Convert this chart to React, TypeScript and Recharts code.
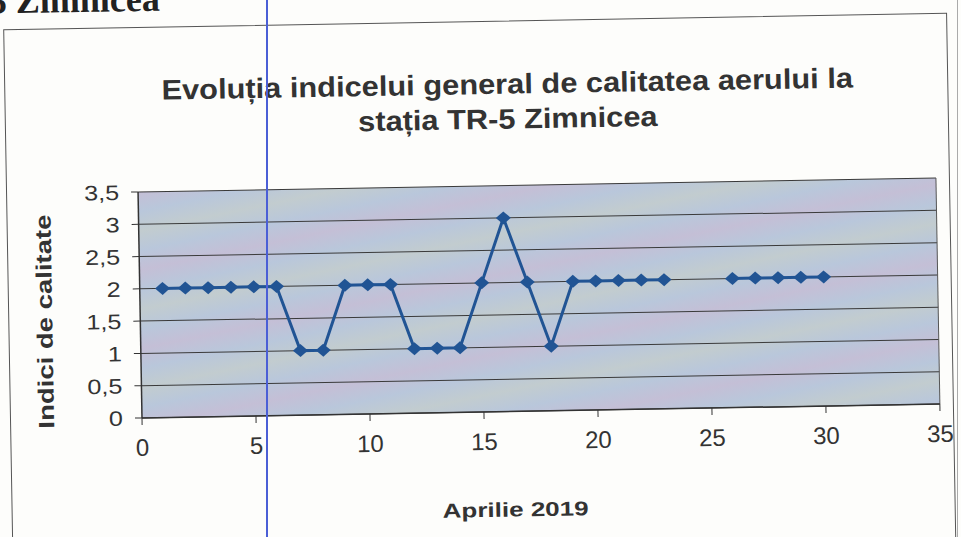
import { LineChart, Line, XAxis, YAxis, CartesianGrid, ReferenceLine } from "recharts";

// Indicele general de calitate, TR-5 Zimnicea, aprilie 2019 (zilele 24-25 lipsa)
const days = [1, 2, 3, 4, 5, 6, 7, 8, 9, 10, 11, 12, 13, 14, 15, 16, 17, 18, 19, 20, 21, 22, 23, 24, 25, 26, 27, 28, 29, 30];
const indici = [2, 2, 2, 2, 2, 2, 1, 1, 2, 2, 2, 1, 1, 1, 2, 3, 2, 1, 2, 2, 2, 2, 2, null, null, 2, 2, 2, 2, 2];
const xTicks = [0, 5, 10, 15, 20, 25, 30, 35];
const yTicks = [0, 0.5, 1, 1.5, 2, 2.5, 3, 3.5];

const data = days.map((d, i) => ({ zi: d, indice: indici[i] }));

const FONT = "'Liberation Sans', Arial, sans-serif";
const LINE_COLOR = "#215494";
const TEXT = "#333";

const Diamond = (props: any) => {
  const { cx, cy, value } = props;
  if (value == null || cx == null || cy == null) return null;
  return (
    <polygon
      points={`${cx},${cy - 6.5} ${cx + 7.5},${cy} ${cx},${cy + 6.5} ${cx - 7.5},${cy}`}
      fill={LINE_COLOR}
    />
  );
};

// scanarea e putin intinsa pe orizontala, asa ca textul e lățit
const YTick = (props: any) => {
  const { x, y, payload } = props;
  return (
    <text
      x={x}
      y={y}
      dy="0.36em"
      textAnchor="end"
      fontSize={21}
      fill={TEXT}
      fontFamily={FONT}
      transform={`translate(${x},0) scale(1.2,1) translate(${-x},0)`}
    >
      {String(payload.value).replace(".", ",")}
    </text>
  );
};

export default function App() {
  return (
    <div style={{ position: "absolute", top: 0, left: 0, width: 961, height: 537, background: "#fdfdfb", overflow: "hidden", fontFamily: FONT }}>
      <div style={{ position: "absolute", left: 0, top: 0, width: 961, height: 537, transform: "rotate(-1deg)", transformOrigin: "540px 300px" }}>
        {/* bucata din titlul paginii, taiata sus */}
        <div style={{ position: "absolute", left: -6, top: -29, fontFamily: "'Liberation Serif', serif", fontWeight: "bold", fontSize: 36, color: "#222", whiteSpace: "nowrap" }}>
          5 Zimnicea
        </div>
        {/* chenarul graficului */}
        <div style={{ position: "absolute", left: 8, top: 20, width: 942, height: 560, border: "1px solid #555" }} />

        <div style={{ position: "absolute", left: 0, top: 66, width: 1022, textAlign: "center", fontWeight: "bold", fontSize: 28, lineHeight: "35px", color: TEXT, transform: "scaleX(1.1)", transformOrigin: "511px 0" }}>
          Evoluția indicelui general de calitatea aerului la
          <br />
          stația TR-5 Zimnicea
        </div>

        <div style={{ position: "absolute", left: 0, top: 0 }}>
          <LineChart width={961} height={537} data={data} margin={{ top: 185, right: 23, bottom: 86, left: 80 }}>
            <defs>
              <linearGradient id="moire" x1="0" y1="0" x2="0.08" y2="0.12" spreadMethod="reflect">
                <stop offset="0%" stopColor="#c4bfd6" />
                <stop offset="50%" stopColor="#b9c7db" />
                <stop offset="100%" stopColor="#c2cccf" />
              </linearGradient>
            </defs>
            <CartesianGrid vertical={false} stroke="#3a3a3a" strokeWidth={1} fill="url(#moire)" fillOpacity={1} />
            <ReferenceLine x={35} stroke="#555" strokeWidth={1} />
            <XAxis
              dataKey="zi"
              type="number"
              domain={[0, 35]}
              ticks={xTicks}
              height={40}
              axisLine={{ stroke: "#333", strokeWidth: 1.5 }}
              tickLine={{ stroke: "#333" }}
              tickSize={7}
              tickMargin={14}
              tick={{ fontSize: 24, fill: TEXT, fontFamily: FONT }}
              interval={0}
            />
            <YAxis
              type="number"
              domain={[0, 3.5]}
              ticks={yTicks}
              width={60}
              axisLine={{ stroke: "#333", strokeWidth: 1.5 }}
              tickLine={{ stroke: "#333" }}
              tickSize={7}
              tickMargin={12}
              tick={<YTick />}
              interval={0}
            />
            <Line
              type="linear"
              dataKey="indice"
              stroke={LINE_COLOR}
              strokeWidth={3}
              dot={<Diamond />}
              activeDot={false}
              connectNulls={false}
              isAnimationActive={false}
            />
          </LineChart>
        </div>

        <div style={{ position: "absolute", left: 45, top: 313, transform: "translate(-50%, -50%) rotate(-90deg) scaleX(1.25)", whiteSpace: "nowrap", fontWeight: "bold", fontSize: 22, color: TEXT }}>
          Indici de calitate
        </div>
        <div style={{ position: "absolute", left: 0, top: 498, width: 1024, textAlign: "center", fontWeight: "bold", fontSize: 20, color: TEXT, transform: "scaleX(1.3)", transformOrigin: "512px 0" }}>
          Aprilie 2019
        </div>
      </div>

      {/* linia albastra din scanare si marginea din dreapta */}
      <div style={{ position: "absolute", left: 266, top: 0, width: 2, height: 537, background: "#4b5fd6" }} />
      <div style={{ position: "absolute", left: 957, top: 0, width: 0, height: 537, borderLeft: "1px solid #aaa" }} />
    </div>
  );
}
